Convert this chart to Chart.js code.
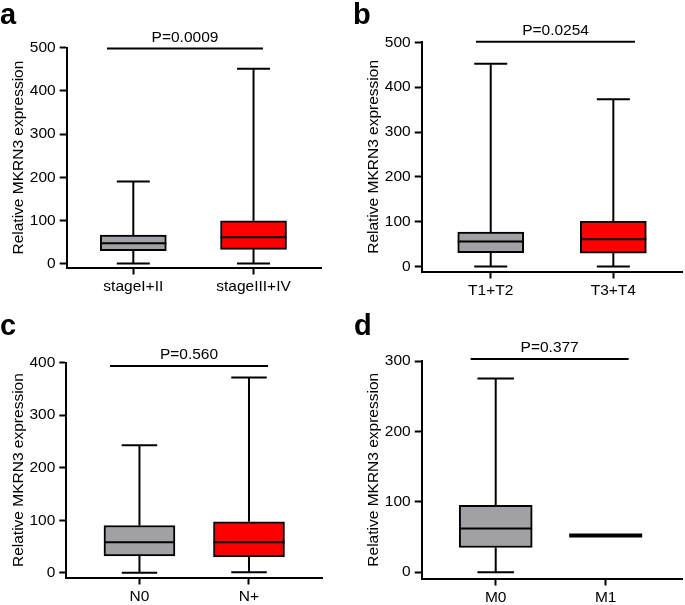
<!DOCTYPE html>
<html>
<head>
<meta charset="utf-8">
<script src="https://cdn.jsdelivr.net/npm/chart.js@4.4.1/dist/chart.umd.min.js"></script>
<style>
  body { margin: 0; background: #fff; }
  #figure { position: relative; width: 685px; height: 605px; font-family: "Liberation Sans", Arial, sans-serif; }
  .panel { position: absolute; }
  .letter { position: absolute; font-weight: bold; font-size: 29px; line-height: 1; color: #000; }
</style>
</head>
<body>
<div id="figure">
  <div class="panel" style="left:0;top:0;width:340px;height:300px"><canvas id="chartStage"></canvas></div>
  <div class="panel" style="left:355px;top:0;width:330px;height:300px"><canvas id="chartT"></canvas></div>
  <div class="panel" style="left:0;top:300px;width:340px;height:305px"><canvas id="chartN"></canvas></div>
  <div class="panel" style="left:355px;top:300px;width:330px;height:305px"><canvas id="chartM"></canvas></div>
  <div class="letter" style="left:0;top:0">a</div>
  <div class="letter" style="left:353px;top:0">b</div>
  <div class="letter" style="left:0;top:311px">c</div>
  <div class="letter" style="left:354px;top:311px">d</div>
</div>
<script>
  // values (min, q1, median, q3, max per group)
  const stageLabels = ["stageI+II", "stageIII+IV"];
  const stageMin = [0, 0];
  const stageQ1 = [30, 33];
  const stageMedian = [47, 61];
  const stageQ3 = [66, 99];
  const stageMax = [190, 451];
  const stageTicks = [0, 100, 200, 300, 400, 500];
  const stageP = "P=0.0009";

  const tLabels = ["T1+T2", "T3+T4"];
  const tMin = [0, 0];
  const tQ1 = [31, 30];
  const tMedian = [56, 61];
  const tQ3 = [77, 101];
  const tMax = [452, 373];
  const tTicks = [0, 100, 200, 300, 400, 500];
  const tP = "P=0.0254";

  const nLabels = ["N0", "N+"];
  const nMin = [0, 1];
  const nQ1 = [32, 30];
  const nMedian = [58, 58];
  const nQ3 = [90, 97];
  const nMax = [243, 372];
  const nTicks = [0, 100, 200, 300, 400];
  const nP = "P=0.560";

  const mLabels = ["M0", "M1"];
  const mMin = [0, 52];
  const mQ1 = [35, 52];
  const mMedian = [62, 52];
  const mQ3 = [95, 52];
  const mMax = [275, 52];
  const mTicks = [0, 100, 200, 300];
  const mP = "P=0.377";

  const boxColors = ["#a0a0a5", "#ff0000"];
  const yTitle = "Relative MKRN3 expression";

  Chart.defaults.font.family = "'Liberation Sans', Arial, sans-serif";
  Chart.defaults.color = "#000";

  const tickFont = { size: 15.5 };

  // whiskers, medians and the p-value bracket, placed through the chart scales
  const boxExtras = {
    id: "boxExtras",
    afterDatasetsDraw(chart, args, opts) {
      const ctx = chart.ctx;
      const xScale = chart.scales.x;
      const yScale = chart.scales.y;
      const meta = chart.getDatasetMeta(0);
      ctx.save();
      ctx.strokeStyle = "#000";
      meta.data.forEach((bar, i) => {
        const x = bar.x;
        const half = bar.width / 2;
        const yMin = yScale.getPixelForValue(opts.min[i]);
        const yQ1 = yScale.getPixelForValue(opts.q1[i]);
        const yMed = yScale.getPixelForValue(opts.median[i]);
        const yQ3 = yScale.getPixelForValue(opts.q3[i]);
        const yMax = yScale.getPixelForValue(opts.max[i]);
        ctx.lineWidth = 2;
        ctx.beginPath();
        if (opts.max[i] > opts.q3[i]) {
          ctx.moveTo(x, yQ3);
          ctx.lineTo(x, yMax);
          ctx.moveTo(x - half / 2, yMax);
          ctx.lineTo(x + half / 2, yMax);
        }
        if (opts.min[i] < opts.q1[i]) {
          ctx.moveTo(x, yQ1);
          ctx.lineTo(x, yMin);
          ctx.moveTo(x - half / 2, yMin);
          ctx.lineTo(x + half / 2, yMin);
        }
        ctx.stroke();
        ctx.lineWidth = opts.q1[i] === opts.q3[i] ? 4 : 2;
        ctx.beginPath();
        ctx.moveTo(x - half, yMed);
        ctx.lineTo(x + half, yMed);
        ctx.stroke();
      });

      const bx1 = xScale.getPixelForValue(opts.bracket[0]);
      const bx2 = xScale.getPixelForValue(opts.bracket[1]);
      const by = yScale.getPixelForValue(opts.bracket[2]);
      ctx.lineWidth = 2;
      ctx.beginPath();
      ctx.moveTo(bx1, by);
      ctx.lineTo(bx2, by);
      ctx.stroke();
      ctx.fillStyle = "#000";
      ctx.font = "15.5px 'Liberation Sans', Arial, sans-serif";
      ctx.textAlign = "center";
      ctx.textBaseline = "alphabetic";
      ctx.fillText(opts.pText, (bx1 + bx2) / 2, by - 7);
      ctx.restore();
    },
  };

  const makePanel = (canvasId, p) => {
    const axisLine = { display: true, color: "#000", width: 2 };
    const tickMarks = {
      display: true,
      offset: false,
      drawOnChartArea: false,
      drawTicks: true,
      tickLength: 7,
      tickWidth: 2,
      tickColor: "#000",
    };
    return new Chart(document.getElementById(canvasId), {
      type: "bar",
      data: {
        datasets: [
          {
            data: p.labels.map((_, i) => ({ x: i, y: [p.q1[i], p.q3[i]] })),
            backgroundColor: boxColors,
            borderColor: "#000",
            borderWidth: 2,
            borderSkipped: false,
            barThickness: p.boxWidth,
          },
        ],
      },
      options: {
        responsive: true,
        maintainAspectRatio: false,
        animation: false,
        layout: { padding: { top: p.padTop, right: p.padRight, left: 0, bottom: 0 } },
        plugins: {
          legend: { display: false },
          tooltip: { enabled: false },
          boxExtras: {
            min: p.min,
            q1: p.q1,
            median: p.median,
            q3: p.q3,
            max: p.max,
            bracket: p.bracket,
            pText: p.pText,
          },
        },
        scales: {
          x: {
            type: "linear",
            offset: false,
            min: p.xRange[0],
            max: p.xRange[1],
            afterBuildTicks(scale) {
              scale.ticks = p.labels.map((_, i) => ({ value: i }));
            },
            afterFit(scale) {
              scale.height = p.xAxisHeight;
            },
            ticks: {
              font: tickFont,
              color: "#000",
              padding: 3,
              maxRotation: 0,
              autoSkip: false,
              callback(value) {
                return p.labels[value];
              },
            },
            grid: tickMarks,
            border: axisLine,
          },
          y: {
            min: p.yMin,
            max: p.ticks[p.ticks.length - 1],
            afterBuildTicks(scale) {
              scale.ticks = p.ticks.map((v) => ({ value: v }));
            },
            afterFit(scale) {
              scale.width = p.yAxisWidth;
            },
            ticks: { font: tickFont, color: "#000", padding: 4 },
            grid: tickMarks,
            border: axisLine,
            title: {
              display: true,
              text: yTitle,
              font: { size: 15.5 },
              color: "#000",
              padding: { top: 9, bottom: 0 },
            },
          },
        },
      },
      plugins: [boxExtras],
    });
  };

  makePanel("chartStage", {
    labels: stageLabels, min: stageMin, q1: stageQ1, median: stageMedian, q3: stageQ3, max: stageMax,
    ticks: stageTicks, pText: stageP,
    yMin: -9, xRange: [-0.554, 1.567], bracket: [-0.219, 1.079, 498],
    boxWidth: 66, padTop: 47.7, padRight: 18.3, yAxisWidth: 66.7, xAxisHeight: 32.5,
  });

  makePanel("chartT", {
    labels: tLabels, min: tMin, q1: tQ1, median: tMedian, q3: tQ3, max: tMax,
    ticks: tTicks, pText: tP,
    yMin: -11, xRange: [-0.563, 1.56], bracket: [-0.12, 1.177, 501],
    boxWidth: 66, padTop: 42.3, padRight: 3, yAxisWidth: 66.7, xAxisHeight: 28.5,
  });

  makePanel("chartN", {
    labels: nLabels, min: nMin, q1: nQ1, median: nMedian, q3: nQ3, max: nMax,
    ticks: nTicks, pText: nP,
    yMin: -9, xRange: [-0.668, 1.673], bracket: [-0.269, 1.174, 393.5],
    boxWidth: 71, padTop: 62.7, padRight: 17.3, yAxisWidth: 66.3, xAxisHeight: 27.5,
  });

  makePanel("chartM", {
    labels: mLabels, min: mMin, q1: mQ1, median: mMedian, q3: mQ3, max: mMax,
    ticks: mTicks, pText: mP,
    yMin: -9, xRange: [-0.673, 1.694], bracket: [-0.228, 1.209, 303],
    boxWidth: 73, padTop: 61, padRight: 3, yAxisWidth: 66.7, xAxisHeight: 26.5,
  });
</script>
</body>
</html>
